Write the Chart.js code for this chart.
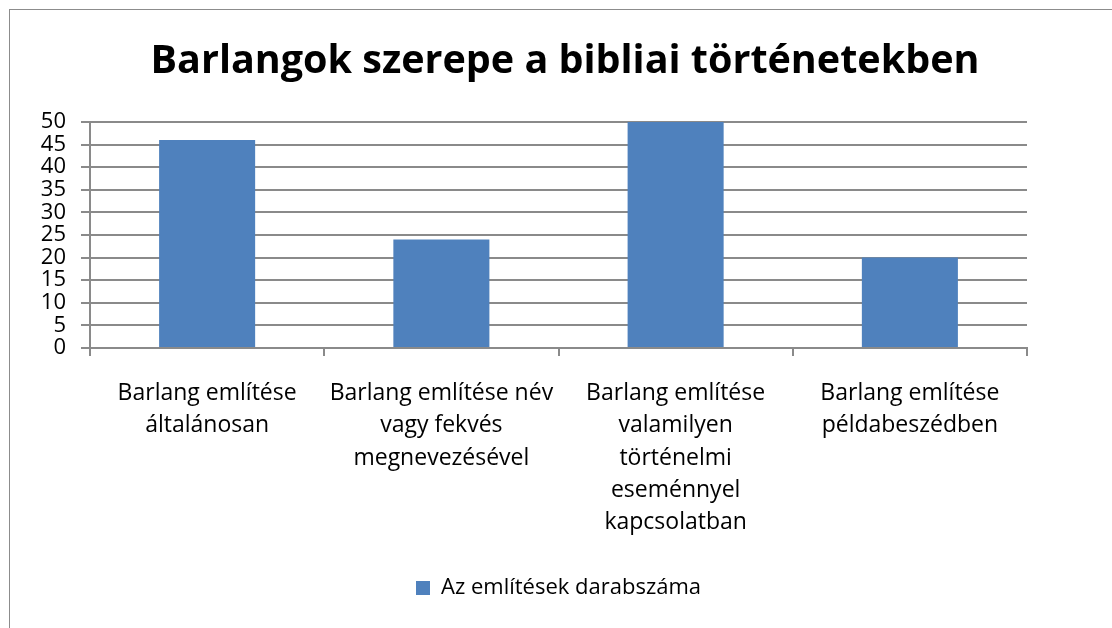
<!DOCTYPE html>
<html>
<head>
<meta charset="utf-8">
<script src="https://cdn.jsdelivr.net/npm/chart.js@4"></script>
<style>
  html, body { margin: 0; padding: 0; background: #fff; }
  #wrap { position: relative; width: 1112px; height: 628px; }
  #frame { position: absolute; left: 9px; top: 9px; width: 1110px; height: 630px; border: 1px solid #8c8c8c; }
  canvas { position: absolute; left: 0; top: 0; }
</style>
</head>
<body>
<div id="wrap">
  <div id="frame"></div>
  <canvas id="chart" width="1112" height="628"></canvas>
</div>
<script>
const categories = [
  ['Barlang említése', 'általánosan'],
  ['Barlang említése név', 'vagy fekvés', 'megnevezésével'],
  ['Barlang említése', 'valamilyen', 'történelmi', 'eseménnyel', 'kapcsolatban'],
  ['Barlang említése', 'példabeszédben']
];
const counts = [46, 24, 50, 20];
const seriesName = 'Az említések darabszáma';
const chartTitle = 'Barlangok szerepe a bibliai történetekben';

const font = "'Open Sans', 'Liberation Sans', sans-serif";
const gridColor = '#8a8a8a';

// title drawn by hand so it can sit centred on the whole frame
const titlePlugin = {
  id: 'frameTitle',
  afterDraw(chart) {
    const c = chart.ctx;
    c.save();
    c.fillStyle = '#000';
    c.font = "bold 39.5px 'Open Sans', 'Liberation Sans', sans-serif";
    c.textAlign = 'center';
    c.textBaseline = 'middle';
    c.fillText(chartTitle, 565, 62);
    c.restore();
  }
};

const ctx = document.getElementById('chart').getContext('2d');
new Chart(ctx, {
  type: 'bar',
  data: {
    labels: categories,
    datasets: [{
      label: seriesName,
      data: counts,
      backgroundColor: '#4f81bd',
      borderWidth: 0,
      categoryPercentage: 1,
      barPercentage: 0.41
    }]
  },
  options: {
    responsive: false,
    animation: false,
    layout: { padding: { left: 16, right: 85, top: 122, bottom: 19 } },
    plugins: {
      title: { display: false },
      legend: {
        position: 'bottom',
        fullSize: false,
        labels: {
          color: '#000',
          font: { family: font, size: 22 },
          boxWidth: 14,
          boxHeight: 14,
          padding: 10
        }
      },
      tooltip: { enabled: false }
    },
    scales: {
      x: {
        grid: { display: true, drawOnChartArea: false, drawTicks: true, tickLength: 8, color: gridColor, lineWidth: 2 },
        border: { display: true, color: gridColor, width: 2 },
        ticks: { color: '#000', font: { family: font, size: 23, lineHeight: 1.41 }, padding: 21, maxRotation: 0, autoSkip: false },
        afterFit: s => { s.height = 219; }
      },
      y: {
        min: 0,
        max: 50,
        grid: { color: gridColor, lineWidth: 2, tickLength: 9 },
        border: { display: true, color: gridColor, width: 2 },
        ticks: { stepSize: 5, autoSkip: false, color: '#000', font: { family: font, size: 22, lineHeight: 1 }, padding: 15 },
        afterFit: s => { s.width = 74; }
      }
    }
  },
  plugins: [titlePlugin]
});
</script>
</body>
</html>
